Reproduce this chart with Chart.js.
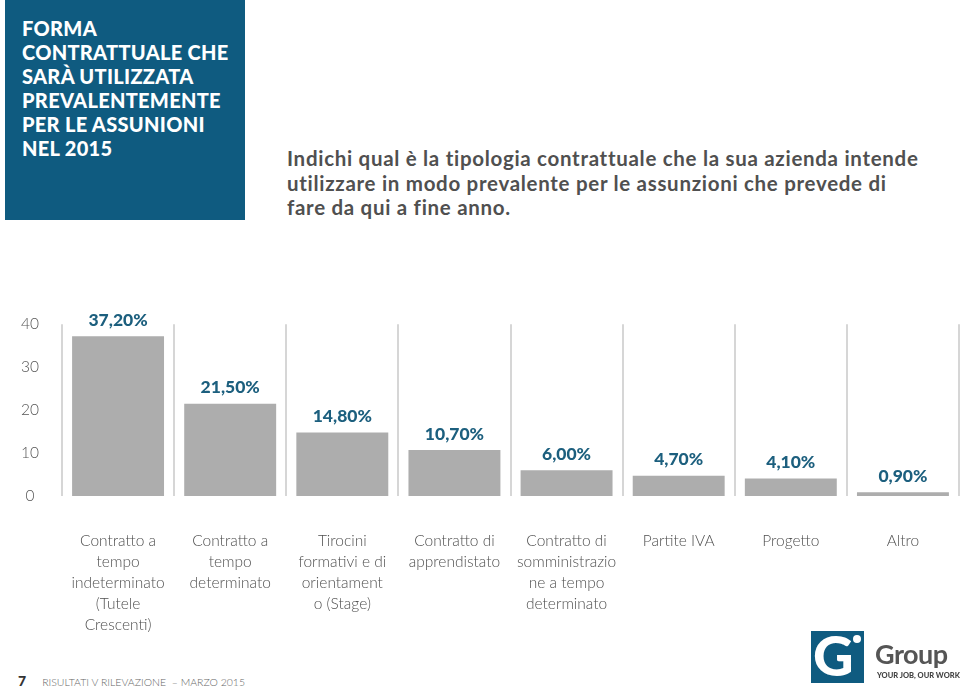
<!DOCTYPE html>
<html>
<head>
<meta charset="utf-8">
<script src="https://cdn.jsdelivr.net/npm/chart.js@4"></script>
<style>
  html, body { margin:0; padding:0; background:#fff; }
  body { width:960px; height:690px; position:relative; overflow:hidden; font-family:Lato, "Open Sans", sans-serif; }
  #box { position:absolute; left:5px; top:0; width:240px; height:220px; background:#0f5b80; }
  #box h1 { margin:0; position:absolute; left:17px; top:16px; color:#fff; font-family:Lato, sans-serif; font-weight:900; font-size:20px; line-height:24px; letter-spacing:0.3px; }
  #question { position:absolute; left:287px; top:146px; width:680px; color:#505050; font-family:Lato, sans-serif; font-weight:700; font-size:20.5px; line-height:24.5px; letter-spacing:0.7px; margin:0; white-space:nowrap; }
  #wrap { position:absolute; left:0; top:300px; width:960px; height:340px; }
  #footer { position:absolute; left:18px; top:672px; font-size:10.5px; color:#666; font-family:Lato, sans-serif; font-weight:300; white-space:nowrap; }
  #footer b { font-weight:900; color:#333; font-size:14px; margin-right:16px; }
  #logo { position:absolute; left:811px; top:631px; width:130px; height:54px; }
  #logo .sq { position:absolute; left:0; top:0; width:53px; height:52px; background:#0f5b80; overflow:hidden; }
  #logo .g { position:absolute; left:2px; top:-8px; color:#fff; font-family:Lato, sans-serif; font-weight:900; font-size:56px; line-height:64px; }
  #logo .dot { position:absolute; left:42px; top:4px; width:8px; height:8px; border-radius:50%; background:#fff; }
  #logo .grp { position:absolute; left:64px; top:8px; color:#555; font-family:Lato, sans-serif; font-weight:700; font-size:27px; line-height:30px; letter-spacing:-0.5px; }
  #logo .tag { position:absolute; left:66px; top:40px; color:#444; font-family:Lato, sans-serif; font-weight:900; font-size:7.5px; white-space:nowrap; }
</style>
</head>
<body>
<div id="box"><h1>FORMA<br>CONTRATTUALE CHE<br>SARÀ UTILIZZATA<br>PREVALENTEMENTE<br>PER LE ASSUNIONI<br>NEL 2015</h1></div>
<p id="question">Indichi qual è la tipologia contrattuale che la sua azienda intende<br>utilizzare in modo prevalente per le assunzioni che prevede di<br>fare da qui a fine anno.</p>
<div id="wrap"><canvas id="c" width="960" height="340"></canvas></div>
<div id="footer"><b>7</b>RISULTATI V RILEVAZIONE &nbsp;– MARZO 2015</div>
<div id="logo"><div class="sq"><div class="g">G</div><div class="dot"></div></div><div class="grp">Group</div><div class="tag">YOUR JOB, OUR WORK</div></div>
<script>
const categories = [
  ["Contratto a","tempo","indeterminato","(Tutele","Crescenti)"],
  ["Contratto a","tempo","determinato"],
  ["Tirocini","formativi e di","orientament","o (Stage)"],
  ["Contratto di","apprendistato"],
  ["Contratto di","somministrazio","ne a tempo","determinato"],
  ["Partite IVA"],
  ["Progetto"],
  ["Altro"]
];
const values = [37.2, 21.5, 14.8, 10.7, 6.0, 4.7, 4.1, 0.9];
const valueLabels = ["37,20%","21,50%","14,80%","10,70%","6,00%","4,70%","4,10%","0,90%"];
const yTicks = [0, 10, 20, 30, 40];

const dataLabelPlugin = {
  id: 'dataLabels',
  afterDatasetsDraw(chart) {
    const ctx = chart.ctx;
    const meta = chart.getDatasetMeta(0);
    ctx.save();
    ctx.font = '900 17.5px Lato, sans-serif';
    ctx.fillStyle = '#1c5f7e';
    ctx.textAlign = 'center';
    ctx.textBaseline = 'middle';
    meta.data.forEach((bar, i) => {
      ctx.fillText(valueLabels[i], bar.x, bar.y - 16);
    });
    ctx.restore();
  }
};

new Chart(document.getElementById('c'), {
  type: 'bar',
  data: {
    labels: categories,
    datasets: [{
      data: values,
      backgroundColor: '#adadad',
      borderWidth: 0,
      barPercentage: 0.82,
      categoryPercentage: 1.0
    }]
  },
  options: {
    responsive: false,
    animation: false,
    events: [],
    layout: { padding: { top: 21, right: 1, left: 0, bottom: 0 } },
    plugins: { legend: { display: false }, tooltip: { enabled: false } },
    scales: {
      x: {
        offset: true,
        grid: { display: true, offset: true, color: '#d6d6d6', lineWidth: 2, drawTicks: false },
        border: { display: false },
        ticks: { color: '#505050', font: { family: 'Lato', weight: 300, size: 15.5, lineHeight: 1.36 }, padding: 34, maxRotation: 0, autoSkip: false },
        afterFit(scale) { scale.height = 144; }
      },
      y: {
        min: 0, max: 40,
        afterBuildTicks(scale) { scale.ticks = yTicks.map(v => ({ value: v })); },
        grid: { display: false },
        border: { display: false },
        ticks: { color: '#555', font: { family: 'Lato', weight: 300, size: 15.5 }, padding: 15, crossAlign: 'center' },
        afterFit(scale) { scale.width = 62; }
      }
    }
  },
  plugins: [dataLabelPlugin]
});
</script>
</body>
</html>
